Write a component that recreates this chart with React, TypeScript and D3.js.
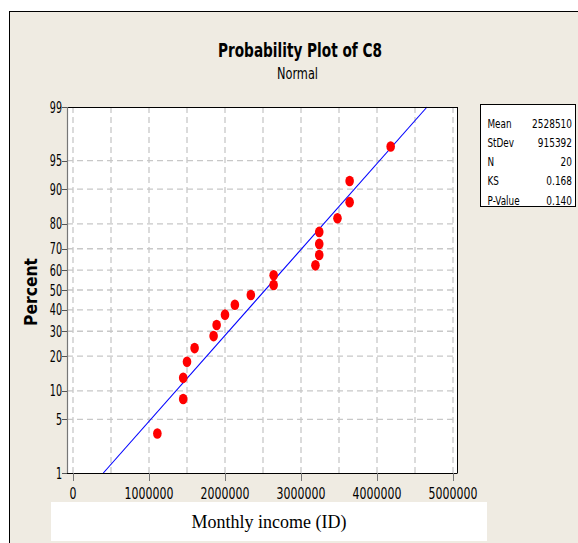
import React from "react";
import * as d3 from "d3";

const incomes = [1110000, 1450000, 1450000, 1500000, 1600000, 1850000, 1890000, 2000000, 2130000, 2340000,
  2640000, 2640000, 3190000, 3240000, 3240000, 3240000, 3480000, 3640000, 3640000, 4180000];
const percents = [3.4, 8.3, 13.2, 18.1, 23.0, 27.9, 32.8, 37.7, 42.6, 47.5,
  52.5, 57.4, 62.3, 67.2, 72.1, 77.0, 81.9, 86.8, 91.7, 96.6];
const yTicks = [1, 5, 10, 20, 30, 40, 50, 60, 70, 80, 90, 95, 99];
const xTicks = [0, 1000000, 2000000, 3000000, 4000000, 5000000];
const xGrid = [0, 500000, 1000000, 1500000, 2000000, 2500000, 3000000, 3500000, 4000000, 4500000, 5000000];
const statLabels = ["Mean", "StDev", "N", "KS", "P-Value"];
const statValues = ["2528510", "915392", "20", "0.168", "0.140"];
const fitMean = 2528510;
const fitSd = 915392;

// inverse normal CDF (Acklam)
function normInv(p: number): number {
  const a = [-3.969683028665376e1, 2.209460984245205e2, -2.759285104469687e2, 1.38357751867269e2, -3.066479806614716e1, 2.506628277459239];
  const b = [-5.447609879822406e1, 1.615858368580409e2, -1.556989798598866e2, 6.680131188771972e1, -1.328068155288572e1];
  const c = [-7.784894002430293e-3, -3.223964580411365e-1, -2.400758277161838, -2.549732539343734, 4.374664141464968, 2.938163982698783];
  const d = [7.784695709041462e-3, 3.224671290700398e-1, 2.445134137142996, 3.754408661907416];
  const pl = 0.02425;
  let q, r;
  if (p < pl) {
    q = Math.sqrt(-2 * Math.log(p));
    return (((((c[0] * q + c[1]) * q + c[2]) * q + c[3]) * q + c[4]) * q + c[5]) / ((((d[0] * q + d[1]) * q + d[2]) * q + d[3]) * q + 1);
  } else if (p <= 1 - pl) {
    q = p - 0.5;
    r = q * q;
    return (((((a[0] * r + a[1]) * r + a[2]) * r + a[3]) * r + a[4]) * r + a[5]) * q / (((((b[0] * r + b[1]) * r + b[2]) * r + b[3]) * r + b[4]) * r + 1);
  }
  q = Math.sqrt(-2 * Math.log(1 - p));
  return -(((((c[0] * q + c[1]) * q + c[2]) * q + c[3]) * q + c[4]) * q + c[5]) / ((((d[0] * q + d[1]) * q + d[2]) * q + d[3]) * q + 1);
}

const FONT = "'DejaVu Sans', Verdana, sans-serif";

function CText(props: { x: number; y: number; sx: number; size: number; anchor?: string; weight?: string; children: any; fill?: string; family?: string }) {
  const { x, y, sx, size, anchor = "start", weight = "normal", children, fill = "#000", family = FONT } = props;
  return (
    <g transform={`translate(${x},${y}) scale(${sx},1)`}>
      <text x={0} y={0} fontSize={size} fontFamily={family} fontWeight={weight} textAnchor={anchor as any} fill={fill}>
        {children}
      </text>
    </g>
  );
}

export default function App() {
  const W = 578, H = 543;
  const L = 67, R = 457, T = 107, B = 473;
  const xScale = d3.scaleLinear().domain([0, 5000000]).range([73, 453]);
  const zScale = d3.scaleLinear().domain([normInv(0.01), normInv(0.99)]).range([B, T]);
  const yPos = (p: number) => zScale(normInv(p / 100));

  const lineData = [1, 99].map((p) => ({ x: fitMean + normInv(p / 100) * fitSd, p }));
  const linePath = d3.line<{ x: number; p: number }>().x((d) => xScale(d.x)).y((d) => yPos(d.p))(lineData) || "";

  return (
    <div style={{ position: "fixed", left: 0, top: 0 }}>
      <svg width={W} height={H} style={{ display: "block" }}>
        <rect x={0} y={0} width={W} height={H} fill="#fff" />
        <rect x={9.5} y={11.5} width={W} height={H} fill="#EFEBE2" stroke="#000" strokeWidth={1} />

        {/* Title */}
        <text x={300} y={57} fontSize={20} fontWeight="bold" fontFamily={FONT} textAnchor="middle" textLength={164} lengthAdjust="spacingAndGlyphs">
          Probability Plot of C8
        </text>
        <text x={297.5} y={79} fontSize={16} fontFamily={FONT} textAnchor="middle" textLength={41} lengthAdjust="spacingAndGlyphs">
          Normal
        </text>

        {/* plot area */}
        <rect x={L} y={T} width={R - L} height={B - T} fill="#fff" />
        <g stroke="#c8c8c8" strokeWidth={1.3} strokeDasharray="6,4">
          {xGrid.map((v) => (
            <line key={"gx" + v} x1={xScale(v)} x2={xScale(v)} y1={T} y2={B} />
          ))}
          {yTicks.filter((p) => p !== 1 && p !== 99).map((p) => (
            <line key={"gy" + p} x1={L} x2={R} y1={yPos(p)} y2={yPos(p)} />
          ))}
        </g>

        {/* fit line */}
        <path d={linePath} stroke="#0000ff" strokeWidth={1.1} fill="none" />

        {/* points */}
        {incomes.map((v, i) => (
          <ellipse key={"pt" + i} cx={xScale(v)} cy={yPos(percents[i])} rx={4.3} ry={5.3} fill="#ff0000" />
        ))}

        {/* frame */}
        <line x1={L} x2={R + 0.5} y1={T + 0.5} y2={T + 0.5} stroke="#000" />
        <line x1={R + 0.5} x2={R + 0.5} y1={T} y2={B} stroke="#000" />
        <line x1={L - 5} x2={R + 0.5} y1={B + 0.5} y2={B + 0.5} stroke="#000" />
        <line x1={L - 5} x2={L} y1={T + 0.5} y2={T + 0.5} stroke="#000" />
        <line x1={L + 0.5} x2={L + 0.5} y1={T} y2={B} stroke="#777" strokeWidth={1.2} />

        {/* y ticks */}
        {yTicks.map((p) => (
          <g key={"yt" + p}>
            <line x1={L - 5} x2={L} y1={Math.round(yPos(p)) + 0.5} y2={Math.round(yPos(p)) + 0.5} stroke="#555" />
            <CText x={L - 5} y={yPos(p) + 5.5} sx={0.64} size={15} anchor="end">{String(p)}</CText>
          </g>
        ))}

        {/* x ticks */}
        {xTicks.map((v) => (
          <g key={"xt" + v}>
            <line x1={Math.round(xScale(v)) + 0.5} x2={Math.round(xScale(v)) + 0.5} y1={B} y2={B + 8} stroke="#777" />
            <CText x={xScale(v)} y={499} sx={0.73} size={15} anchor="middle">{String(v)}</CText>
          </g>
        ))}

        {/* y label */}
        <text transform="translate(37,292) rotate(-90)" fontSize={17} fontWeight="bold" fontFamily={FONT} textAnchor="middle" textLength={68} lengthAdjust="spacingAndGlyphs">
          Percent
        </text>

        {/* stats box */}
        <rect x={480.5} y={104.5} width={95} height={102} fill="#fff" stroke="#000" />
        {statLabels.map((s, i) => (
          <g key={"st" + i}>
            <CText x={487.5} y={127.5 + i * 19.3} sx={0.68} size={13}>{s}</CText>
            <CText x={572} y={127.5 + i * 19.3} sx={0.69} size={13} anchor="end">{statValues[i]}</CText>
          </g>
        ))}

        {/* x label box */}
        <rect x={51} y={502} width={436} height={39} fill="#fff" />
        <text x={269} y={528} fontSize={18} fontFamily="'Liberation Serif', 'Times New Roman', serif" textAnchor="middle">
          Monthly income (ID)
        </text>
      </svg>
    </div>
  );
}
